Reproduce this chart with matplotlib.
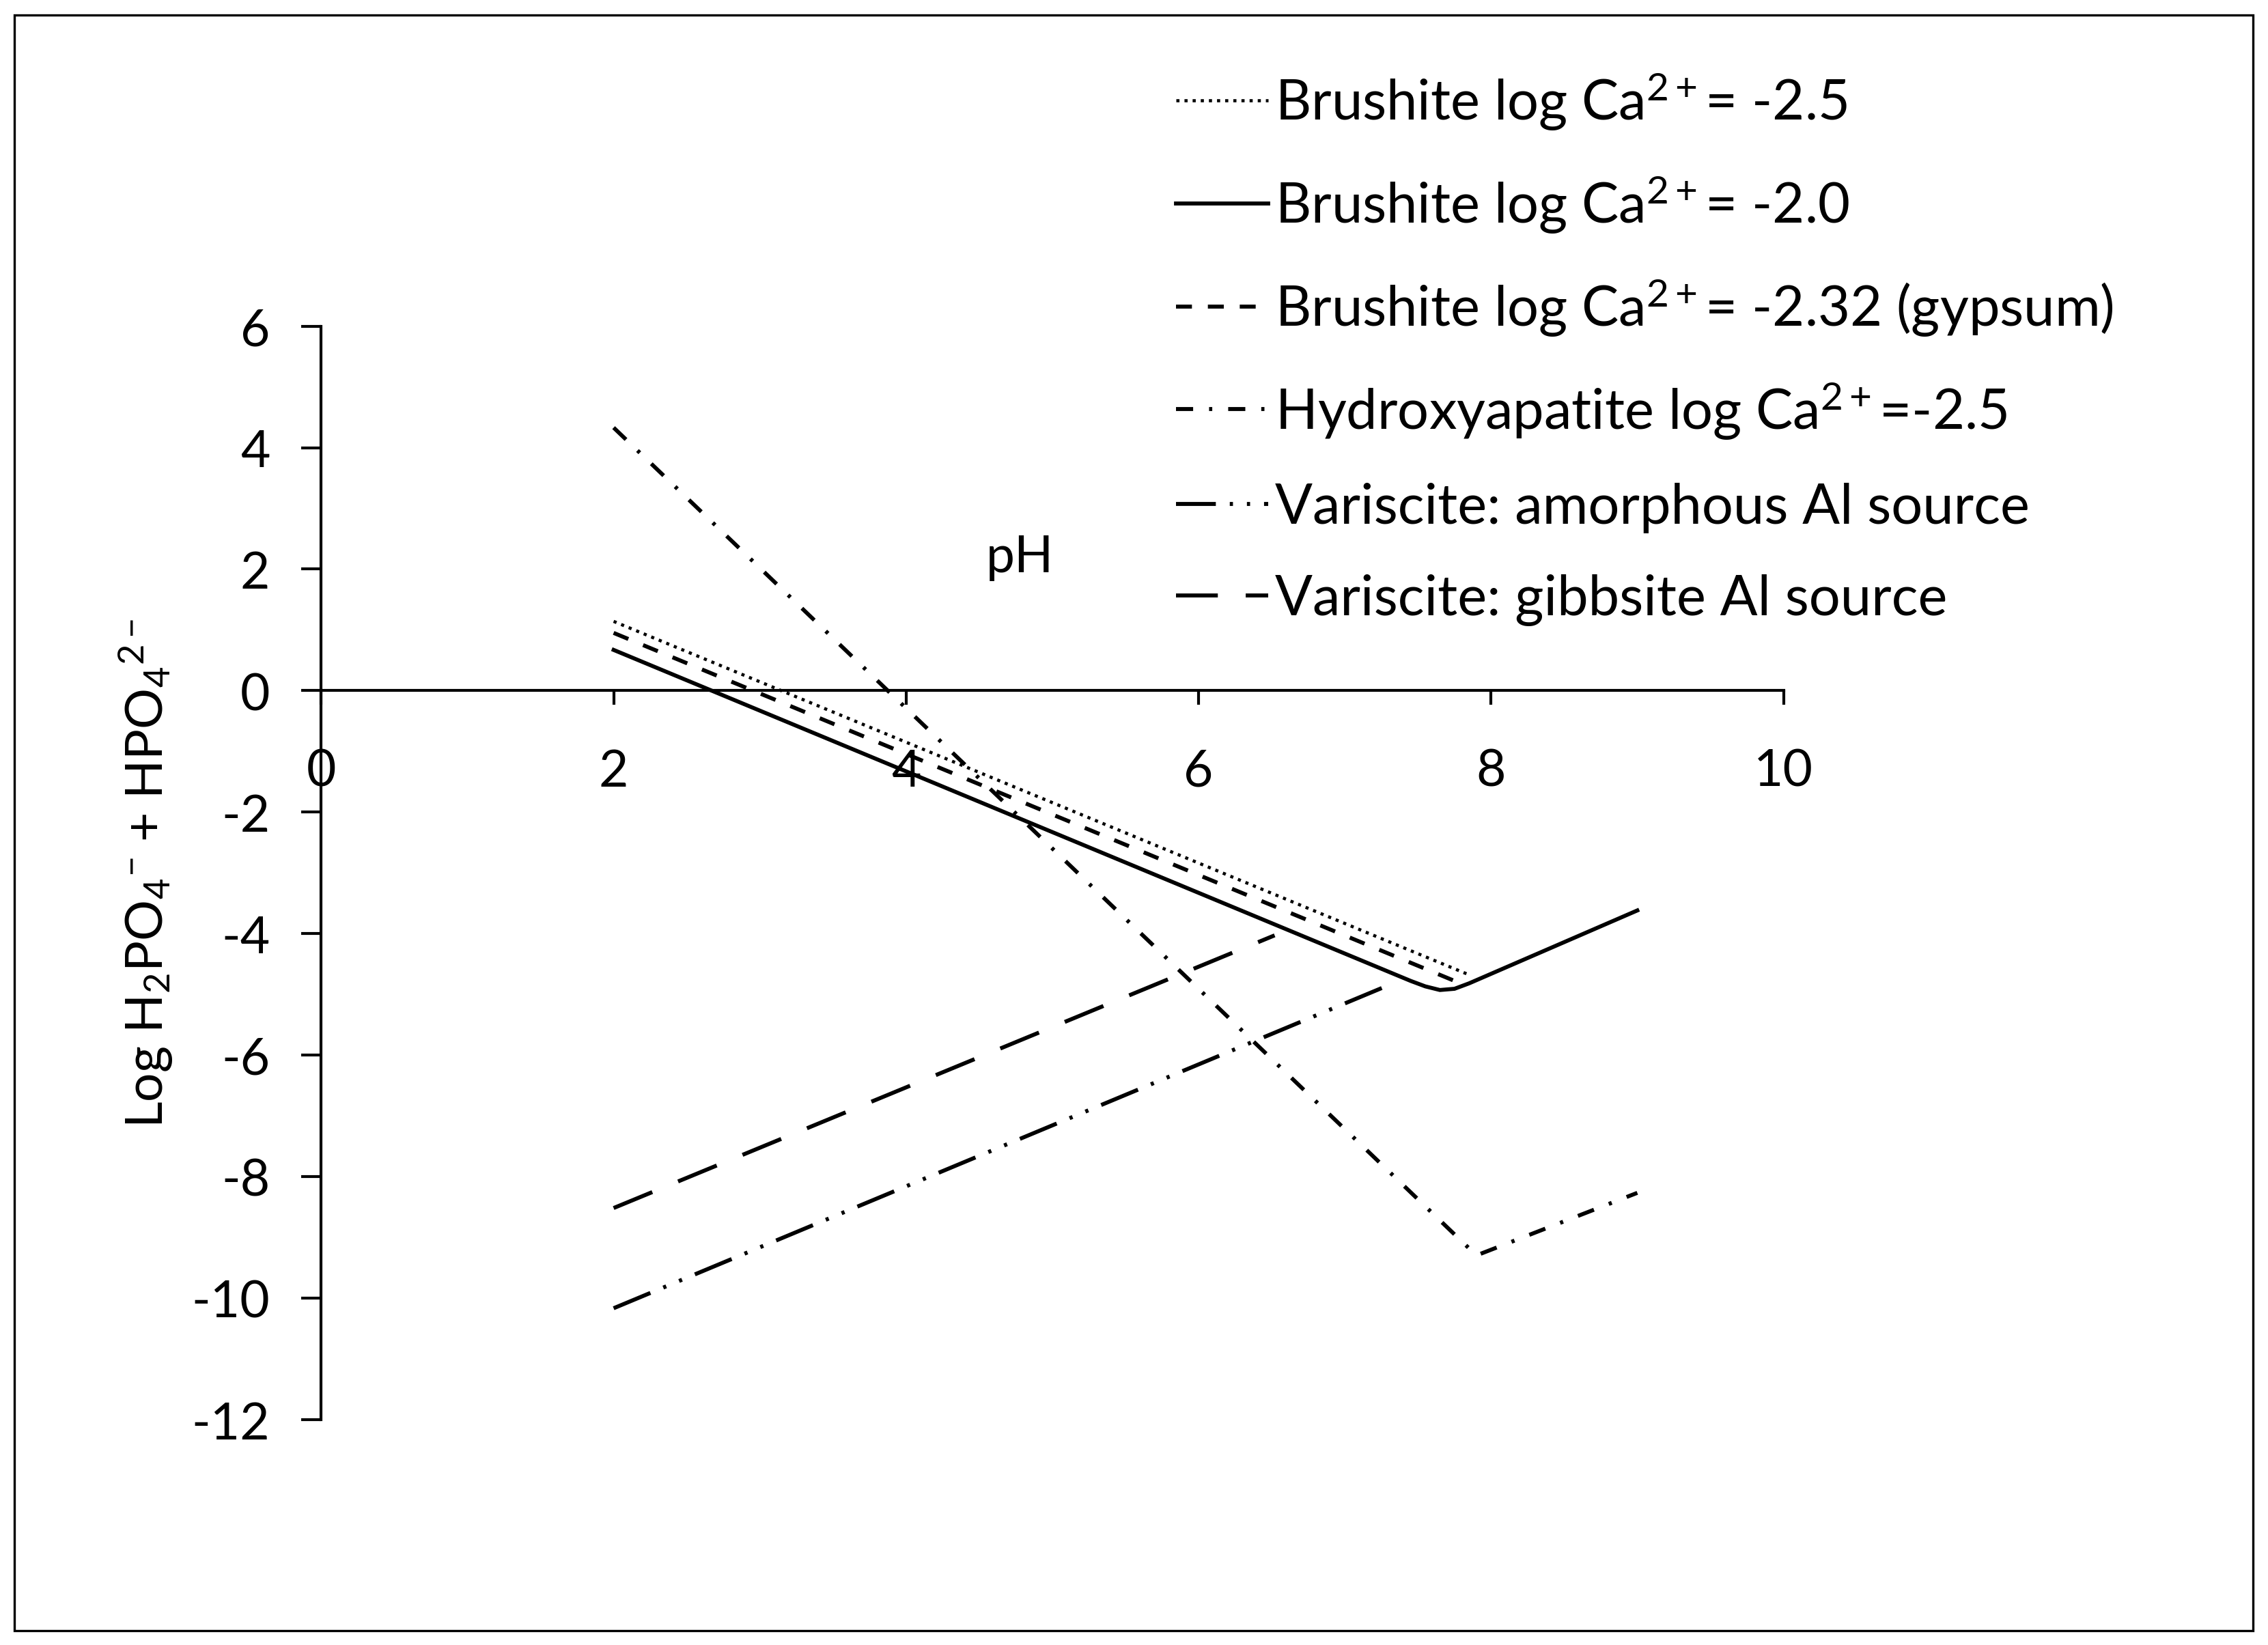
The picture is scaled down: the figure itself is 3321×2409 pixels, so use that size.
import matplotlib
matplotlib.use('Agg')
import matplotlib.pyplot as plt
from matplotlib.patches import Rectangle

plt.rcParams['font.family'] = ['Lato', 'DejaVu Sans']
plt.rcParams['mathtext.fontset'] = 'custom'
plt.rcParams['mathtext.rm'] = 'Lato'
plt.rcParams['mathtext.it'] = 'Lato:italic'
plt.rcParams['mathtext.default'] = 'regular'
plt.rcParams['axes.unicode_minus'] = False

# values (pH, log H2PO4- + HPO4 2-)
ph_bru_25 = [2, 7.85]
logp_bru_25 = [1.14, -4.68]

ph_bru_20 = [2, 7.45, 7.55, 7.65, 7.75, 7.85, 9]
logp_bru_20 = [0.67, -4.78, -4.87, -4.93, -4.91, -4.82, -3.62]

ph_bru_232 = [2, 7.75]
logp_bru_232 = [0.95, -4.78]

ph_hap = [2, 7.9, 9]
logp_hap = [4.33, -9.3, -8.27]

ph_var_amo = [2, 7.3]
logp_var_amo = [-10.17, -4.85]

ph_var_gib = [2, 6.52]
logp_var_gib = [-8.52, -4.03]

labels = [
    r'Brushite log Ca$^{2+}$= -2.5',
    r'Brushite log Ca$^{2+}$= -2.0',
    r'Brushite log Ca$^{2+}$= -2.32 (gypsum)',
    r'Hydroxyapatite log Ca$^{2+}$=-2.5',
    'Variscite: amorphous Al source',
    'Variscite: gibbsite Al source',
]

fig = plt.figure(figsize=(11.07, 8.033), dpi=300)
ax = fig.add_axes([0.1416, 0.1371, 0.6448, 0.6643])

lw = 1.4
ax.plot(ph_bru_25, logp_bru_25, color='black', lw=1.1, dashes=(1, 1.6), label=labels[0])
ax.plot(ph_bru_20, logp_bru_20, color='black', lw=lw, label=labels[1])
ax.plot(ph_bru_232, logp_bru_232, color='black', lw=lw, dashes=(4, 4), label=labels[2])
ax.plot(ph_hap, logp_hap, color='black', lw=lw, dashes=(4.3, 4, 0.8, 4), label=labels[3])
ax.plot(ph_var_amo, logp_var_amo, color='black', lw=lw,
        dashes=(10, 3.5, 0.8, 3.5, 0.8, 3.5), label=labels[4])
ax.plot(ph_var_gib, logp_var_gib, color='black', lw=lw, dashes=(10.5, 7), label=labels[5])

ax.set_xlim(0, 10)
ax.set_ylim(-12, 6)
ax.set_xticks(range(0, 11, 2))
ax.set_yticks(range(-12, 7, 2))
ax.spines['top'].set_visible(False)
ax.spines['right'].set_visible(False)
ax.spines['bottom'].set_position(('data', 0))
ax.spines['left'].set_linewidth(1.0)
ax.spines['bottom'].set_linewidth(1.0)
ax.tick_params(axis='x', direction='out', length=5, width=1.0, labelsize=18, pad=15)
ax.tick_params(axis='y', direction='out', length=7, width=1.0, labelsize=18, pad=11)

ax.set_ylabel(r'Log H$_2$PO$_4$$^{-}$ + HPO$_4$$^{2-}$', fontsize=18, labelpad=6)
ax.text(4.78, 2.2, 'pH', fontsize=18, ha='center', va='center')

fig.legend(loc='upper left', bbox_to_anchor=(0.5185, 0.957), frameon=False,
           fontsize=19.5, handlelength=1.66, handletextpad=0.12, labelspacing=0.74,
           borderaxespad=0, borderpad=0)

fig.add_artist(Rectangle((0.0064, 0.0088), 0.987, 0.9815, transform=fig.transFigure,
                         fill=False, edgecolor='black', lw=0.8))

fig.savefig('out.png', dpi=300)
